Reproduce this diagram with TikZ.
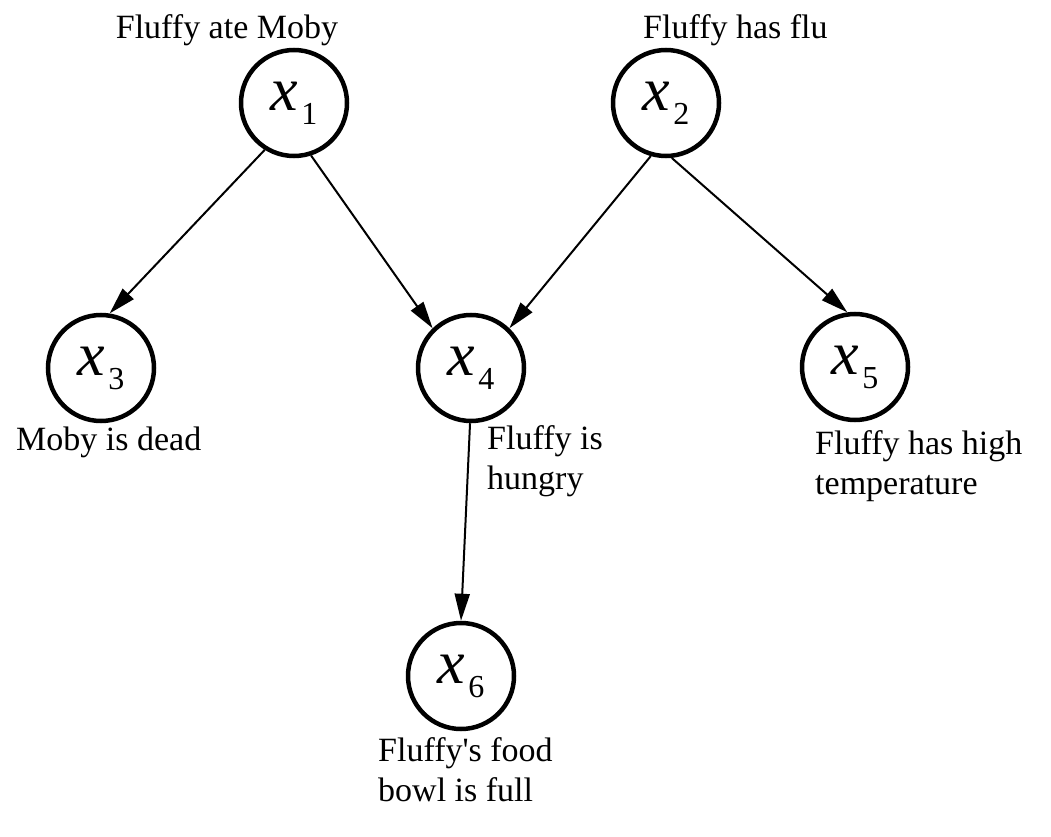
\documentclass[tikz,border=0pt]{standalone}
\usepackage{fontspec}
\setmainfont{Liberation Serif}
\usetikzlibrary{arrows.meta}
\tikzset{
  var/.style={circle, draw, line width=4.5pt, minimum size=106pt, inner sep=0pt},
  lbl/.style={inner sep=0pt, font=\fontsize{34}{40}\selectfont, align=left},
  conn/.style={line width=2pt, -{Triangle[length=27pt,width=15pt]}}
}
\newcommand{\xv}[1]{{\fontsize{62}{62}\selectfont\itshape x}\kern3pt\raisebox{-14pt}{\fontsize{32}{32}\selectfont #1}}
\begin{document}
\begin{tikzpicture}[x=1pt,y=-1pt]
\useasboundingbox (0,0) rectangle (1051,837);
\node[var] (x1) at (294,103) {\xv{1}};
\node[var] (x2) at (666,103) {\xv{2}};
\node[var] (x3) at (101,368) {\xv{3}};
\node[var] (x4) at (471,368) {\xv{4}};
\node[var] (x5) at (855,367) {\xv{5}};
\node[var] (x6) at (461,676) {\xv{6}};

\node[lbl, anchor=north] (l1) at (227,14) {Fluffy ate Moby};
\node[lbl, anchor=north west] (l2) at (643,14) {Fluffy has flu};
\node[lbl, anchor=north west] (l3) at (16,427) {Moby is dead};
\node[lbl, anchor=north west] (l4) at (487,425) {Fluffy is\\hungry};
\node[lbl, anchor=north west] (l5) at (815,430) {Fluffy has high\\temperature};
\node[lbl, anchor=north west] (l6) at (378,737) {Fluffy\textquotesingle s food\\bowl is full};

\draw[conn] (x1.238) -- (x3.81);
\draw[conn] (x1.288) -- (x4.134);
\draw[conn] (x2.254) -- (x4.46);
\draw[conn] (x2.276) -- (x5.98);
\draw[conn] (x4.269) -- (x6.90);
\end{tikzpicture}
\end{document}
